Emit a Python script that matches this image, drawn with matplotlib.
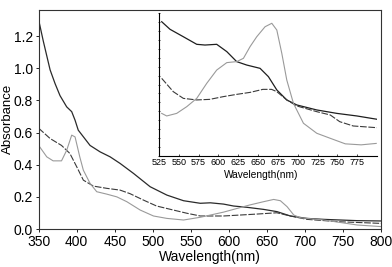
import numpy as np
import matplotlib.pyplot as plt

plt.rcParams['font.family'] = ['Liberation Sans', 'DejaVu Sans']

# main spectra (wavelength nm, absorbance)
wl_solid = [350, 356, 365, 371.5, 378, 386.8, 393.4, 397.8, 402, 417.5, 430.7, 443.9, 457, 474.6,
            496.5, 518.5, 540.4, 562.4, 575.6, 593, 606.2, 623.8, 645.7, 663.3, 680.8, 702.7,
            724.7, 768.6, 800]
ab_solid = [1.30, 1.17, 0.99, 0.905, 0.83, 0.76, 0.73, 0.677, 0.615, 0.52, 0.48, 0.449, 0.408, 0.346,
            0.263, 0.211, 0.176, 0.16, 0.163, 0.155, 0.143, 0.135, 0.122, 0.108, 0.081, 0.066,
            0.06, 0.052, 0.05]

wl_dash = [350, 365, 380, 391, 400, 408.7, 421.9, 439.5, 457, 470, 487.7, 505, 527, 544.8, 562.4,
           593, 637, 663, 680.8, 702.7, 746, 800]
ab_dash = [0.627, 0.563, 0.52, 0.47, 0.387, 0.304, 0.267, 0.253, 0.242, 0.22, 0.18, 0.143, 0.118,
           0.098, 0.081, 0.081, 0.093, 0.101, 0.081, 0.06, 0.045, 0.035]

wl_grey = [350, 360.6, 369, 380, 386.8, 393.4, 397.8, 404, 408.7, 417.5, 426.3, 439.5, 452.7, 465.8,
           483.4, 500.9, 518.5, 540.4, 562.4, 593, 627, 645.7, 658.9, 667.7, 676.5, 685.3, 694,
           724.7, 768.6, 800]
ab_grey = [0.52, 0.449, 0.424, 0.424, 0.49, 0.584, 0.573, 0.449, 0.366, 0.284, 0.232, 0.217, 0.2,
           0.17, 0.118, 0.081, 0.066, 0.056, 0.073, 0.105, 0.149, 0.17, 0.184, 0.176, 0.139, 0.087,
           0.07, 0.056, 0.025, 0.015]

# inset spectra (arbitrary units)
iwl_solid = [528.4, 538.9, 555.7, 572.6, 583, 597.8, 610.5, 623, 635.7, 652.5, 663, 673.6, 686.2,
             698.8, 724, 749.4, 774.6, 799.8]
iab_solid = [0.939, 0.886, 0.834, 0.781, 0.776, 0.781, 0.730, 0.66, 0.636, 0.613, 0.555, 0.462,
             0.392, 0.357, 0.322, 0.298, 0.280, 0.257]

iwl_dash = [528.4, 543, 555.7, 572.6, 589, 606, 623, 640, 656, 667, 673.6, 686.2, 698.8, 724,
            741, 753, 770, 799.8]
iab_dash = [0.543, 0.45, 0.403, 0.392, 0.396, 0.415, 0.431, 0.445, 0.466, 0.466, 0.45, 0.392, 0.35,
            0.31, 0.287, 0.24, 0.21, 0.198]

iwl_grey = [528.4, 534.7, 547.3, 560, 572.6, 585.2, 597.8, 610.5, 623, 631.5, 639.9, 648.3, 658.8,
            667.3, 673.6, 679.9, 686.2, 694.6, 707.2, 724, 740.9, 760, 780, 799]
iab_grey = [0.298, 0.28, 0.298, 0.345, 0.403, 0.508, 0.601, 0.653, 0.66, 0.683, 0.765, 0.834,
            0.904, 0.928, 0.881, 0.718, 0.531, 0.368, 0.229, 0.159, 0.124, 0.085, 0.078, 0.088]

fig = plt.figure(figsize=(3.92, 2.67), dpi=100)
ax = fig.add_axes([0.0987, 0.1423, 0.8733, 0.8217])
ax.plot(wl_solid, ab_solid, '-', color='#2a2a2a', linewidth=0.9)
ax.plot(wl_dash, ab_dash, '--', color='#3a3a3a', linewidth=0.8, dashes=(6, 1.5))
ax.plot(wl_grey, ab_grey, '-', color='#9a9a9a', linewidth=0.8)
ax.set_xlim(350, 800)
ax.set_ylim(0, 1.365)
ax.set_xticks(np.arange(350, 801, 50))
ax.set_yticks(np.arange(0, 1.21, 0.2))
ax.set_yticklabels(['0.0', '0.2', '0.4', '0.6', '0.8', '1.0', '1.2'])
ax.tick_params(labelsize=10, length=2.5, width=0.6, pad=1.5)
ax.set_xlabel('Wavelength(nm)', fontsize=10, labelpad=1)
ax.set_ylabel('Absorbance', fontsize=9.5, va='center')
ax.yaxis.set_label_coords(-0.091, 0.5)
for s in ax.spines.values():
    s.set_linewidth(0.8)
    s.set_color('#333333')

ins = fig.add_axes([159 / 392, 1 - 156 / 267, (377 - 159) / 392, (156 - 13) / 267])
ins.plot(iwl_solid, iab_solid, '-', color='#1e1e1e', linewidth=0.9)
ins.plot(iwl_dash, iab_dash, '--', color='#3a3a3a', linewidth=0.8, dashes=(6, 1.5))
ins.plot(iwl_grey, iab_grey, '-', color='#9a9a9a', linewidth=0.8)
ins.set_xlim(525, 800)
ins.set_ylim(0, 1)
ins.set_xticks(np.arange(525, 776, 25))
ins.set_yticks(np.linspace(0, 1, 17))
ins.set_yticklabels([])
ins.tick_params(axis='x', labelsize=6.5, length=1.5, width=0.5, pad=1.5, direction='in')
ins.tick_params(axis='y', length=2, width=0.5, direction='inout')
ins.set_xlabel('Wavelength(nm)', fontsize=7.3, labelpad=1)
ins.xaxis.set_label_coords(0.468, -0.1)
ins.spines['top'].set_visible(False)
ins.spines['right'].set_visible(False)
ins.spines['left'].set_linewidth(0.8)
ins.spines['bottom'].set_linewidth(0.8)
ins.patch.set_alpha(0)

fig.savefig('out.png', dpi=100)
